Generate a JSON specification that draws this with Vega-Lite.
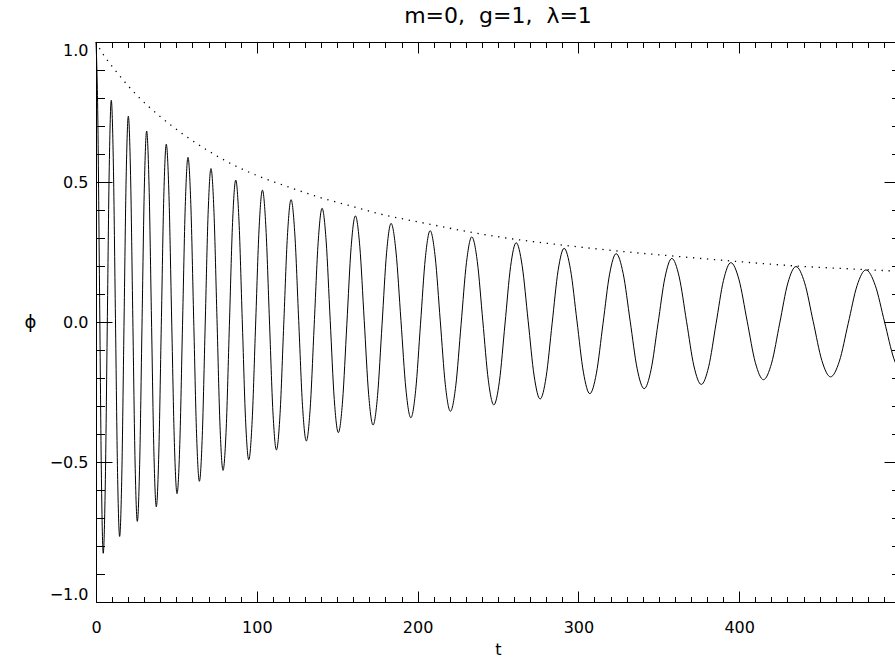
{
  "$schema": "https://vega.github.io/schema/vega-lite/v6.json",
  "width": 804,
  "height": 560,
  "autosize": {"type": "none"},
  "padding": {"left": 96, "top": 42, "right": 0, "bottom": 60},
  "background": "white",
  "config": {
    "view": {"stroke": null},
    "axis": {
      "grid": false,
      "domainColor": "black",
      "tickColor": "black",
      "labelColor": "black",
      "titleColor": "black",
      "labelFont": "DejaVu Sans",
      "titleFont": "DejaVu Sans",
      "labelFontSize": 16,
      "titleFontSize": 16,
      "titleFontWeight": "normal",
      "domainWidth": 1,
      "tickWidth": 1
    }
  },
  "title": {
    "text": "m=0,\u00a0 g=1,\u00a0 λ=1",
    "frame": "group",
    "anchor": "middle",
    "font": "DejaVu Sans",
    "fontSize": 22,
    "fontWeight": "normal",
    "color": "black",
    "offset": 11
  },
  "datasets": {
    "phi": [
      {"t":0,"phi":1.0},{"t":1.125,"phi":0.732},{"t":2.25,"phi":0.087},{"t":3.375,"phi":-0.558},
      {"t":4.5,"phi":-0.826},{"t":5.75,"phi":-0.589},{"t":7.0,"phi":-0.017},{"t":8.25,"phi":0.555},
      {"t":9.5,"phi":0.792},{"t":10.8,"phi":0.564},{"t":12.1,"phi":0.013},{"t":13.4,"phi":-0.538},
      {"t":14.7,"phi":-0.766},{"t":16.05,"phi":-0.547},{"t":17.4,"phi":-0.016},{"t":18.75,"phi":0.515},
      {"t":20.1,"phi":0.735},{"t":21.5,"phi":0.524},{"t":22.9,"phi":0.012},{"t":24.3,"phi":-0.5},
      {"t":25.7,"phi":-0.712},{"t":27.15,"phi":-0.508},{"t":28.6,"phi":-0.015},{"t":30.05,"phi":0.478},
      {"t":31.5,"phi":0.682},{"t":33.0,"phi":0.485},{"t":34.5,"phi":0.011},{"t":36.0,"phi":-0.463},
      {"t":37.5,"phi":-0.66},{"t":39.05,"phi":-0.471},{"t":40.6,"phi":-0.013},{"t":42.15,"phi":0.445},
      {"t":43.7,"phi":0.635},{"t":45.38,"phi":0.452},{"t":47.05,"phi":0.011},{"t":48.73,"phi":-0.43},
      {"t":50.4,"phi":-0.613},{"t":52.1,"phi":-0.438},{"t":53.8,"phi":-0.013},{"t":55.5,"phi":0.412},
      {"t":57.2,"phi":0.588},{"t":58.98,"phi":0.419},{"t":60.75,"phi":0.01},{"t":62.53,"phi":-0.399},
      {"t":64.3,"phi":-0.569},{"t":66.1,"phi":-0.406},{"t":67.9,"phi":-0.011},{"t":69.7,"phi":0.384},
      {"t":71.5,"phi":0.548},{"t":73.38,"phi":0.39},{"t":75.25,"phi":0.009},{"t":77.13,"phi":-0.372},
      {"t":79.0,"phi":-0.53},{"t":80.98,"phi":-0.379},{"t":82.95,"phi":-0.012},{"t":84.93,"phi":0.355},
      {"t":86.9,"phi":0.507},{"t":88.93,"phi":0.361},{"t":90.95,"phi":0.008},{"t":92.98,"phi":-0.345},
      {"t":95.0,"phi":-0.492},{"t":97.13,"phi":-0.351},{"t":99.25,"phi":-0.011},{"t":101.38,"phi":0.329},
      {"t":103.5,"phi":0.471},{"t":105.68,"phi":0.335},{"t":107.85,"phi":0.007},{"t":110.03,"phi":-0.321},
      {"t":112.2,"phi":-0.457},{"t":114.48,"phi":-0.326},{"t":116.75,"phi":-0.01},{"t":119.03,"phi":0.306},
      {"t":121.3,"phi":0.437},{"t":123.68,"phi":0.311},{"t":126.05,"phi":0.006},{"t":128.43,"phi":-0.299},
      {"t":130.8,"phi":-0.425},{"t":133.25,"phi":-0.304},{"t":135.7,"phi":-0.01},{"t":138.15,"phi":0.284},
      {"t":140.6,"phi":0.406},{"t":143.13,"phi":0.289},{"t":145.65,"phi":0.006},{"t":148.18,"phi":-0.277},
      {"t":150.7,"phi":-0.395},{"t":153.35,"phi":-0.282},{"t":156.0,"phi":-0.008},{"t":158.65,"phi":0.266},
      {"t":161.3,"phi":0.379},{"t":164.05,"phi":0.27},{"t":166.8,"phi":0.006},{"t":169.55,"phi":-0.258},
      {"t":172.3,"phi":-0.368},{"t":175.1,"phi":-0.263},{"t":177.9,"phi":-0.008},{"t":180.7,"phi":0.247},
      {"t":183.5,"phi":0.352},{"t":186.58,"phi":0.25},{"t":189.65,"phi":0.005},{"t":192.73,"phi":-0.24},
      {"t":195.8,"phi":-0.342},{"t":198.8,"phi":-0.244},{"t":201.8,"phi":-0.008},{"t":204.8,"phi":0.228},
      {"t":207.8,"phi":0.326},{"t":210.95,"phi":0.232},{"t":214.1,"phi":0.004},{"t":217.25,"phi":-0.224},
      {"t":220.4,"phi":-0.319},{"t":223.73,"phi":-0.228},{"t":227.05,"phi":-0.008},{"t":230.38,"phi":0.212},
      {"t":233.7,"phi":0.304},{"t":237.13,"phi":0.216},{"t":240.55,"phi":0.004},{"t":243.98,"phi":-0.208},
      {"t":247.4,"phi":-0.296},{"t":250.88,"phi":-0.212},{"t":254.35,"phi":-0.007},{"t":257.83,"phi":0.198},
      {"t":261.3,"phi":0.283},{"t":265.03,"phi":0.201},{"t":268.75,"phi":0.004},{"t":272.48,"phi":-0.193},
      {"t":276.2,"phi":-0.275},{"t":279.93,"phi":-0.196},{"t":283.65,"phi":-0.006},{"t":287.38,"phi":0.184},
      {"t":291.1,"phi":0.263},{"t":295.1,"phi":0.187},{"t":299.1,"phi":0.004},{"t":303.1,"phi":-0.179},
      {"t":307.1,"phi":-0.256},{"t":311.2,"phi":-0.183},{"t":315.3,"phi":-0.006},{"t":319.4,"phi":0.171},
      {"t":323.5,"phi":0.244},{"t":327.85,"phi":0.173},{"t":332.2,"phi":0.003},{"t":336.55,"phi":-0.167},
      {"t":340.9,"phi":-0.238},{"t":345.2,"phi":-0.17},{"t":349.5,"phi":-0.006},{"t":353.8,"phi":0.158},
      {"t":358.1,"phi":0.227},{"t":362.68,"phi":0.161},{"t":367.25,"phi":0.002},{"t":371.83,"phi":-0.157},
      {"t":376.4,"phi":-0.223},{"t":381.0,"phi":-0.16},{"t":385.6,"phi":-0.006},{"t":390.2,"phi":0.148},
      {"t":394.8,"phi":0.212},{"t":399.88,"phi":0.151},{"t":404.95,"phi":0.003},{"t":410.03,"phi":-0.145},
      {"t":415.1,"phi":-0.206},{"t":420.15,"phi":-0.147},{"t":425.2,"phi":-0.004},{"t":430.25,"phi":0.139},
      {"t":435.3,"phi":0.198},{"t":440.68,"phi":0.14},{"t":446.05,"phi":0.001},{"t":451.43,"phi":-0.138},
      {"t":456.8,"phi":-0.196},{"t":462.3,"phi":-0.14},{"t":467.8,"phi":-0.005},{"t":473.3,"phi":0.13},
      {"t":478.8,"phi":0.186},{"t":484.6,"phi":0.131},{"t":490.4,"phi":0.0},{"t":496.2,"phi":-0.131},
      {"t":500,"phi":-0.179}
    ],
    "env": [
      {"t":0,"phi":1.0},{"t":2.5,"phi":0.974},{"t":13.5,"phi":0.888},{"t":25.9,"phi":0.807},
      {"t":39.4,"phi":0.736},{"t":54.3,"phi":0.67},{"t":69.9,"phi":0.611},{"t":86.5,"phi":0.558},
      {"t":103.7,"phi":0.515},{"t":120.9,"phi":0.48},{"t":138.5,"phi":0.446},{"t":156.8,"phi":0.417},
      {"t":175.2,"phi":0.388},{"t":207.8,"phi":0.349},{"t":233.7,"phi":0.32},{"t":261.3,"phi":0.295},
      {"t":291.1,"phi":0.274},{"t":323.5,"phi":0.254},{"t":358.1,"phi":0.236},{"t":394.8,"phi":0.218},
      {"t":435.3,"phi":0.2},{"t":478.8,"phi":0.187},{"t":500,"phi":0.181}
    ]
  },
  "layer": [
    {
      "data": {"name": "phi"},
      "mark": {"type": "line", "color": "black", "strokeWidth": 1, "interpolate": "monotone"},
      "encoding": {
        "x": {
          "field": "t", "type": "quantitative",
          "scale": {"domain": [0, 500], "nice": false, "zero": false},
          "axis": {
            "orient": "bottom",
            "values": [0,10,20,30,40,50,60,70,80,90,100,110,120,130,140,150,160,170,180,190,200,210,220,230,240,250,260,270,280,290,300,310,320,330,340,350,360,370,380,390,400,410,420,430,440,450,460,470,480,490],
            "format": "d",
            "labelExpr": "datum.value % 100 === 0 ? datum.label : ''",
            "tickSize": {"condition": {"test": "datum.value % 100 === 0", "value": -11}, "value": -5.5},
            "labelPadding": 28,
            "labelFlush": false,
            "labelOverlap": false,
            "labelBound": false,
            "title": "t",
            "titlePadding": 1
          }
        },
        "y": {
          "field": "phi", "type": "quantitative",
          "scale": {"domain": [-1, 1], "nice": false, "zero": false},
          "axis": {
            "orient": "left",
            "values": [-1,-0.9,-0.8,-0.7,-0.6,-0.5,-0.4,-0.3,-0.2,-0.1,0,0.1,0.2,0.3,0.4,0.5,0.6,0.7,0.8,0.9,1],
            "format": ".1f",
            "labelExpr": "abs(datum.value) % 0.5 === 0 ? datum.label : ''",
            "tickSize": {"condition": {"test": "abs(datum.value) % 0.5 === 0", "value": -16}, "value": -8.5},
            "labelPadding": 24,
            "labelFlush": true,
            "labelFlushOffset": 0,
            "labelOverlap": false,
            "labelBound": false,
            "title": "ϕ",
            "titleAngle": 0,
            "titleAlign": "center",
            "titleBaseline": "middle",
            "titleFontSize": 18,
            "titleX": -66,
            "titleY": 280
          }
        }
      }
    },
    {
      "data": {"name": "env"},
      "mark": {"type": "line", "color": "black", "strokeWidth": 1.3, "strokeDash": [1.3, 5.7], "interpolate": "monotone"},
      "encoding": {
        "x": {
          "field": "t", "type": "quantitative",
          "axis": {
            "orient": "top",
            "values": [0,10,20,30,40,50,60,70,80,90,100,110,120,130,140,150,160,170,180,190,200,210,220,230,240,250,260,270,280,290,300,310,320,330,340,350,360,370,380,390,400,410,420,430,440,450,460,470,480,490],
            "labels": false,
            "tickSize": {"condition": {"test": "datum.value % 100 === 0", "value": -11}, "value": -5.5},
            "title": null
          }
        },
        "y": {
          "field": "phi", "type": "quantitative",
          "axis": {
            "orient": "right",
            "values": [-1,-0.9,-0.8,-0.7,-0.6,-0.5,-0.4,-0.3,-0.2,-0.1,0,0.1,0.2,0.3,0.4,0.5,0.6,0.7,0.8,0.9,1],
            "labels": false,
            "tickSize": {"condition": {"test": "abs(datum.value) % 0.5 === 0", "value": -16}, "value": -8.5},
            "title": null
          }
        }
      }
    }
  ],
  "resolve": {"axis": {"x": "independent", "y": "independent"}}
}
